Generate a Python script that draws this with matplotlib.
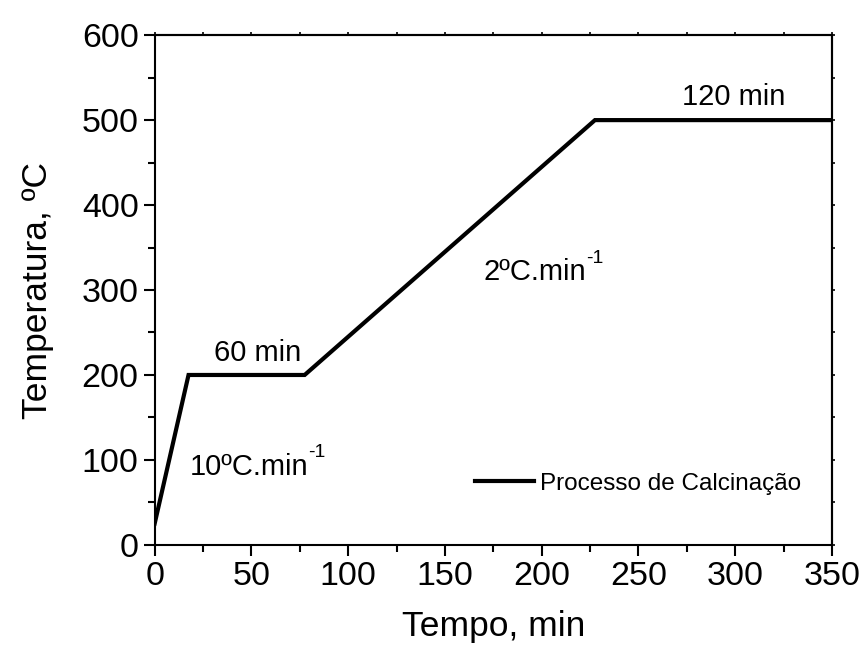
import matplotlib
matplotlib.use("Agg")
import matplotlib.pyplot as plt
from matplotlib.ticker import MultipleLocator, NullFormatter

plt.rcParams['font.family'] = ['Liberation Sans', 'DejaVu Sans']

# Calcination program: time (min) vs temperature (C)
tempo = [0, 17.5, 77.5, 227.5, 350]
temperatura = [25, 200, 200, 500, 500]

# Annotations: (text, superscript, x, y, ha)
notas = [
    ("60 min", "", 53, 226, 'center'),
    ("10ºC.min", "-1", 18, 92, 'left'),
    ("2ºC.min", "-1", 170, 321, 'left'),
    ("120 min", "", 299, 527, 'center'),
]

fig = plt.figure(figsize=(8.64, 6.51), dpi=100)
ax = fig.add_axes([0.179, 0.163, 0.784, 0.783])

ax.plot(tempo, temperatura, color='black', lw=3, solid_joinstyle='miter',
        label="Processo de Calcinação")

for txt, sup, x, y, ha in notas:
    t = ax.text(x, y, txt, fontsize=21, ha=ha, va='center')
    if sup:
        ax.annotate(sup, xy=(1.0, 1.0), xycoords=t, fontsize=14,
                    ha='left', va='center')

ax.set_xlim(0, 350)
ax.set_ylim(0, 600)
ax.xaxis.set_major_locator(MultipleLocator(50))
ax.xaxis.set_minor_locator(MultipleLocator(25))
ax.yaxis.set_major_locator(MultipleLocator(100))
ax.yaxis.set_minor_locator(MultipleLocator(50))

ax.tick_params(which='major', direction='out', length=8, width=1.5, labelsize=24.5)
ax.tick_params(which='minor', direction='out', length=5, width=1.5)
for s in ax.spines.values():
    s.set_linewidth(1.5)

# tiny mirrored ticks on top/right
top = ax.secondary_xaxis('top')
top.xaxis.set_major_locator(MultipleLocator(25))
top.xaxis.set_major_formatter(NullFormatter())
top.tick_params(direction='out', length=2, width=1.2)
top.spines['top'].set_linewidth(1.5)
right = ax.secondary_yaxis('right')
right.yaxis.set_major_locator(MultipleLocator(50))
right.yaxis.set_major_formatter(NullFormatter())
right.tick_params(direction='out', length=2, width=1.2)
right.spines['right'].set_linewidth(1.5)

ax.set_xlabel("Tempo, min", fontsize=25.5, labelpad=13)
ax.set_ylabel("Temperatura, ºC", fontsize=25.5, labelpad=20)

ax.legend(loc='center left', bbox_to_anchor=(0.441, 0.12), frameon=False,
          fontsize=17.5, handlelength=2.4, handletextpad=0.25)

fig.savefig("out.png", dpi=100)
